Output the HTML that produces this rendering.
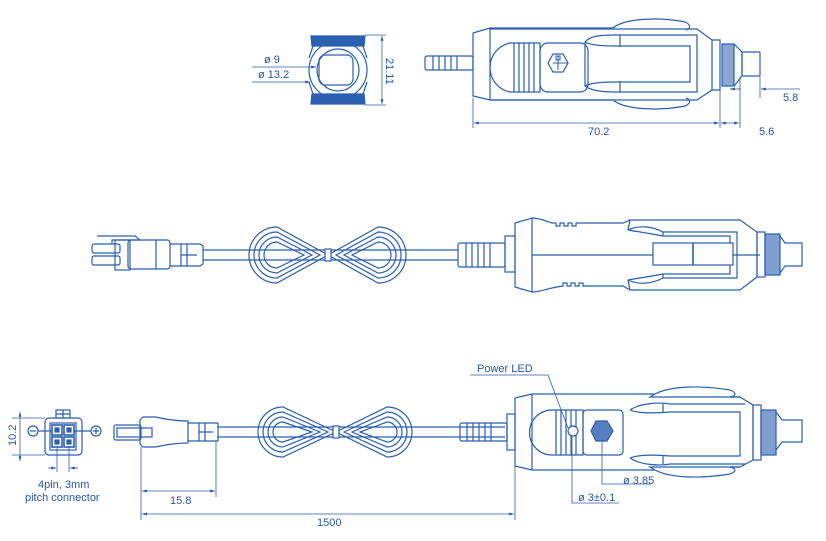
<!DOCTYPE html>
<html><head><meta charset="utf-8"><style>
html,body{margin:0;padding:0;background:#fff}
svg{display:block}
text{font-family:"Liberation Sans",sans-serif;fill:#2a55a6}
</style></head><body>
<svg width="826" height="541" viewBox="0 0 826 541" xmlns="http://www.w3.org/2000/svg">
<defs>
<marker id="a" viewBox="0 0 10 10" refX="10" refY="5" markerWidth="6" markerHeight="6" orient="auto-start-reverse"><path d="M0,2 L10,5 L0,8 Z" fill="#2a55a6"/></marker>
</defs>
<g fill="none" stroke="#2b5fb0" stroke-width="1.2">

<!-- ===== TOP END VIEW ===== -->
<circle cx="338" cy="70" r="29"/>
<circle cx="338" cy="70" r="21"/>
<rect x="319" y="55" width="34" height="30" rx="6"/>
<path d="M311,36 H365 L364,46 H312 Z" fill="#2b5fb0"/>
<path d="M311,104 H365 L364,94 H312 Z" fill="#2b5fb0"/>
<path d="M313,46 L309,58 M363,46 L367,58 M313,94 L309,82 M363,94 L367,82"/>
<line x1="365" y1="35" x2="386" y2="35" stroke-width="0.8"/>
<line x1="365" y1="105" x2="386" y2="105" stroke-width="0.8"/>
<line x1="382" y1="36" x2="382" y2="104" stroke-width="0.8" marker-start="url(#a)" marker-end="url(#a)"/>
<line x1="252" y1="67" x2="316" y2="67" stroke-width="0.8" marker-end="url(#a)"/>
<line x1="252" y1="82" x2="310" y2="82" stroke-width="0.8" marker-end="url(#a)"/>

<!-- ===== TOP PLUG ===== -->
<rect x="425" y="56" width="48" height="14" rx="2"/>
<path d="M433,56v14 M439,56v14 M445,56v14 M451,56v14 M457,56v14"/>
<path d="M473,33 L490,28 H613 M473,33 V96 L490,100 H613"/>
<line x1="490" y1="28" x2="490" y2="100"/>
<path d="M613,28 C625,18 660,17 685,22 C692,25 690,29 686,30"/>
<path d="M613,100 C625,110 660,111 685,106 C692,103 690,99 686,98"/>
<path d="M490,29 H697 L712,40 V90 L697,100 H490"/>
<path d="M510,43 H540 V92 H510 A25 25 0 0 1 510,43 Z"/>
<path d="M514,43v49 M519,43v49 M524,43v49 M529,43v49 M534,43v49"/>
<rect x="540" y="43" width="48" height="49" rx="8"/>
<polygon points="568,63 563,72 553,72 548,63 553,54 563,54"/>
<path d="M556,60 h4 v-4 h-4z M553,63 h14 M558,56 v14" stroke-width="1"/>
<path d="M585,42 C590,36 600,35 615,35 H697 V92 H615 C600,92 590,90 585,86 Z"/>
<path d="M585,42 C590,45 600,46 615,46 H690 V82 H615 C600,82 590,83 585,86"/>
<line x1="620" y1="35" x2="620" y2="47"/>
<line x1="620" y1="81" x2="620" y2="92"/>
<path d="M712,40 L720,40 V90 H712"/>
<rect x="722" y="44" width="12" height="42" fill="#2b5fb0" fill-opacity="0.55"/>
<path d="M734,44 L742,52 V76 L734,86"/>
<rect x="742" y="52" width="18" height="24" rx="1"/>
<line x1="473" y1="98" x2="473" y2="128" stroke-width="0.8"/>
<line x1="720" y1="90" x2="720" y2="128" stroke-width="0.8"/>
<line x1="740" y1="77" x2="740" y2="128" stroke-width="0.8"/>
<line x1="760" y1="77" x2="760" y2="98" stroke-width="0.8"/>
<line x1="474" y1="123" x2="719" y2="123" stroke-width="0.8" marker-start="url(#a)" marker-end="url(#a)"/>
<line x1="721" y1="123" x2="739" y2="123" stroke-width="0.8" marker-start="url(#a)" marker-end="url(#a)"/>
<line x1="741" y1="89" x2="730" y2="89" stroke-width="0.8" marker-end="url(#a)"/>
<line x1="783" y1="89" x2="761" y2="89" stroke-width="0.8" marker-end="url(#a)"/>
<line x1="783" y1="89" x2="800" y2="89" stroke-width="0.8"/>

<!-- ===== MIDDLE ===== -->
<path d="M97,236 H135 L140,240 H112 V244" />
<rect x="92" y="244" width="28" height="9" rx="2"/>
<rect x="92" y="256" width="28" height="9" rx="2"/>
<rect x="115" y="240" width="15" height="30"/>
<rect x="128" y="240" width="42" height="29" rx="3"/>
<line x1="156" y1="240" x2="156" y2="269"/>
<path d="M170,244 H200 L203,246 V264 L200,266 H170"/>
<path d="M181,244v22 M187,244v22 M181,255h16"/>
<line x1="203" y1="250" x2="458" y2="250"/>
<line x1="203" y1="260" x2="458" y2="260"/>
<path d="M328,255 L277,227 A28 28 0 0 0 277,283 Z M320,255 L277,232 A23 23 0 0 0 277,278 Z M312,255 L277,237 A18 18 0 0 0 277,273 Z M304,255 L277,242 A13 13 0 0 0 277,268 Z"/>
<path d="M328,255 L378,227 A28 28 0 0 1 378,283 Z M336,255 L378,232 A23 23 0 0 1 378,278 Z M344,255 L378,237 A18 18 0 0 1 378,273 Z M352,255 L378,242 A13 13 0 0 1 378,268 Z"/>
<rect x="325" y="249" width="6" height="12" fill="#fff"/>
<rect x="458" y="243" width="47" height="24" rx="2"/>
<path d="M466,243v24 M472,243v24 M478,243v24 M484,243v24 M490,243v24"/>
<rect x="505" y="236" width="10" height="36"/>
<path d="M515,223 L532,218 V292 L515,287 Z"/>
<path d="M532,218 C540,218 548,222 552,223 h4v3h4v-3h4v3h4v-3h4v3h4v-3 H623 L630,220 H740 L757,232 V277 L740,290 H630 L623,286 H583 v-3h-4v3h-4v-3h-4v3h-4v-3h-4v3 C548,288 540,292 532,292"/>
<path d="M630,220 L628,230 M630,290 L628,280"/>
<path d="M628,230 C638,225 652,226 663,232 H737 V278 H663 C652,284 638,285 628,280"/>
<path d="M628,230 C640,232 652,234 663,236 H730 V274 H663 C652,276 640,278 628,280"/>
<line x1="663" y1="232" x2="663" y2="236"/><line x1="663" y1="274" x2="663" y2="278"/>
<line x1="532" y1="255" x2="760" y2="255"/>
<rect x="653" y="243" width="80" height="22" fill="#fff"/>
<line x1="693" y1="243" x2="693" y2="265" stroke-width="1.6"/>
<rect x="757" y="232" width="8" height="45"/>
<rect x="765" y="234" width="15" height="41" fill="#2b5fb0" fill-opacity="0.6"/>
<path d="M780,236 L785,243 H802 V266 H785 L780,273"/>

<!-- ===== BOTTOM LEFT CONNECTOR ===== -->
<rect x="45" y="418" width="37" height="37" rx="4"/>
<rect x="56" y="410" width="14" height="8"/>
<path d="M63,410v8 M56,414h14"/>
<rect x="50" y="423" width="26" height="27"/>
<rect x="52" y="425" width="10" height="10" stroke-width="1.6"/>
<rect x="64" y="425" width="10" height="10" stroke-width="1.6"/>
<rect x="52" y="437" width="10" height="10" stroke-width="1.6"/>
<rect x="64" y="437" width="10" height="10" stroke-width="1.6"/>
<rect x="55" y="428" width="4" height="4" fill="#2b5fb0"/><rect x="67" y="428" width="4" height="4" fill="#2b5fb0"/>
<rect x="55" y="440" width="4" height="4" fill="#2b5fb0"/><rect x="67" y="440" width="4" height="4" fill="#2b5fb0"/>
<circle cx="33" cy="431" r="5"/><line x1="30" y1="431" x2="36" y2="431"/>
<line x1="38" y1="431" x2="52" y2="431"/>
<circle cx="96" cy="431" r="5"/><path d="M93,431h6 M96,428v6"/>
<line x1="74" y1="431" x2="91" y2="431"/>
<line x1="12" y1="418" x2="45" y2="418" stroke-width="0.8"/>
<line x1="12" y1="455" x2="45" y2="455" stroke-width="0.8"/>
<line x1="20" y1="412" x2="20" y2="461" stroke-width="0.8" marker-start="url(#a)" marker-end="url(#a)"/>
<line x1="57" y1="447" x2="57" y2="472" stroke-width="0.8"/>
<line x1="69" y1="447" x2="69" y2="472" stroke-width="0.8"/>
<line x1="48" y1="468" x2="56" y2="468" stroke-width="0.8" marker-end="url(#a)"/>
<line x1="78" y1="468" x2="70" y2="468" stroke-width="0.8" marker-end="url(#a)"/>

<!-- ===== BOTTOM CABLE ===== -->
<rect x="114" y="425" width="27" height="15" rx="2"/>
<rect x="117" y="428" width="35" height="9"/>
<path d="M140,420 L143,417 H155 C165,419 175,421 188,421 V443 C175,443 165,445 155,447 H143 L140,444 Z"/>
<path d="M188,423 H218 V441 H188"/>
<path d="M199,423v18 M205,423v18 M199,432h14"/>
<line x1="218" y1="427" x2="505" y2="427"/>
<line x1="218" y1="437" x2="505" y2="437"/>
<path d="M336,432 L283,407 A25 25 0 0 0 283,457 Z M328,432 L283,412 A20 20 0 0 0 283,452 Z M320,432 L283,417 A15 15 0 0 0 283,447 Z M312,432 L283,422 A10 10 0 0 0 283,442 Z"/>
<path d="M336,432 L387,407 A25 25 0 0 1 387,457 Z M344,432 L387,412 A20 20 0 0 1 387,452 Z M352,432 L387,417 A15 15 0 0 1 387,447 Z M360,432 L387,422 A10 10 0 0 1 387,442 Z"/>
<rect x="333" y="426" width="6" height="12" fill="#fff"/>
<rect x="460" y="423" width="47" height="18" rx="2"/>
<path d="M467,423v18 M473,423v18 M479,423v18 M485,423v18 M491,423v18"/>
<rect x="507" y="414" width="8" height="36"/>
<path d="M515,398 L532,394 V470 L515,466 Z"/>
<path d="M532,394 H655 C670,386 700,385 730,390 C738,393 735,396 730,397 H740 L753,405 V460 L740,467 H730 C735,468 738,471 730,474 C700,479 670,478 655,470 H532"/>
<path d="M655,394 L650,397 H740 M655,470 L650,467 H740"/>
<path d="M630,410 C640,403 660,402 670,404 H745 M630,458 C640,465 660,466 670,464 H745"/>
<path d="M630,410 C640,414 660,413 670,412 H740 V456 H670 C660,455 640,454 630,458" />
<line x1="663" y1="404" x2="663" y2="412"/><line x1="663" y1="456" x2="663" y2="464"/>
<path d="M552,410 H583 V455 H552 A22.5 22.5 0 0 1 552,410 Z"/>
<path d="M556,410v45 M561,410v45 M566,410v45 M571,410v45 M576,410v45"/>
<rect x="583" y="410" width="40" height="45" rx="4"/>
<circle cx="573" cy="431" r="5" fill="#fff"/>
<polygon points="613,431 607,441 596,441 591,431 596,421 607,421" fill="#2b5fb0" fill-opacity="0.8"/>
<rect x="753" y="405" width="8" height="55"/>
<rect x="761" y="410" width="15" height="45" fill="#2b5fb0" fill-opacity="0.6"/>
<path d="M776,412 L782,420 H802 V442 H782 L776,450"/>
<path d="M470,375 H548 L568,428" stroke-width="0.8"/>
<path d="M572,436 V503 H619" stroke-width="0.8"/>
<path d="M602,441 V484 H651" stroke-width="0.8"/>
<line x1="141" y1="447" x2="141" y2="520" stroke-width="0.8"/>
<line x1="216" y1="441" x2="216" y2="497" stroke-width="0.8"/>
<line x1="515" y1="466" x2="515" y2="520" stroke-width="0.8"/>
<line x1="142" y1="491" x2="215" y2="491" stroke-width="0.8" marker-start="url(#a)" marker-end="url(#a)"/>
<line x1="142" y1="514" x2="514" y2="514" stroke-width="0.8" marker-start="url(#a)" marker-end="url(#a)"/>
</g>

<g font-size="11">
<text x="264" y="63">ø 9</text>
<text x="258" y="78">ø 13.2</text>
<text x="386" y="58" transform="rotate(90 386 58)">21.11</text>
<text x="588" y="135">70.2</text>
<text x="759" y="135">5.6</text>
<text x="783" y="101">5.8</text>
<text x="16" y="446" transform="rotate(-90 16 446)">10.2</text>
<text x="38" y="488">4pin, 3mm</text>
<text x="25" y="501">pitch connector</text>
<text x="170" y="504">15.8</text>
<text x="317" y="526">1500</text>
<text x="477" y="372">Power LED</text>
<text x="623" y="484">ø 3.85</text>
<text x="578" y="501">ø 3±0.1</text>
</g>
</svg>
</body></html>
